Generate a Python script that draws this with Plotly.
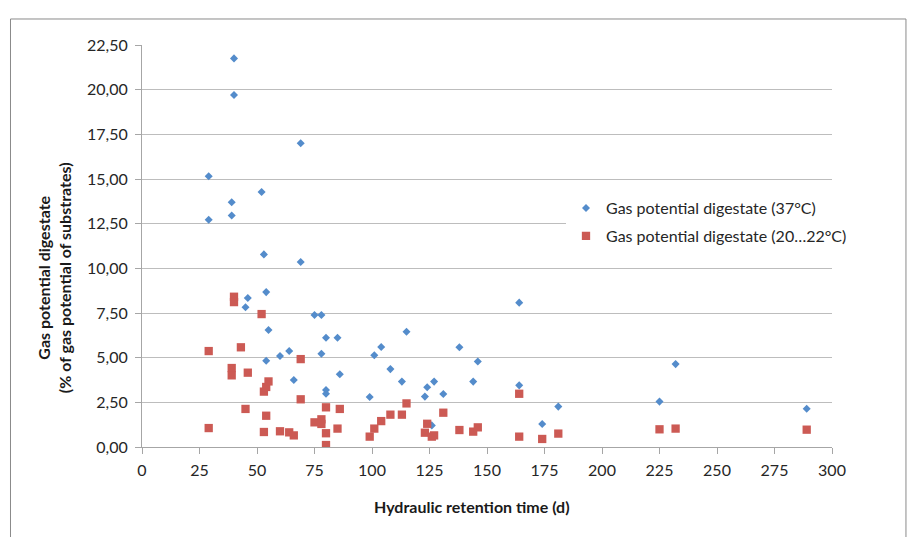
import plotly.graph_objects as go

# Gas potential digestate (37°C)
x37 = [29, 29, 39, 39, 40, 40, 45, 46, 52, 53, 54, 54, 55, 60, 64, 66, 69, 69, 75, 78,
       78, 80, 80, 80, 85, 86, 99, 101, 104, 108, 113, 115, 123, 124, 126, 127, 131, 138,
       144, 146, 164, 164, 174, 181, 225, 232, 289]
y37 = [15.15, 12.72, 13.70, 12.96, 21.75, 19.70, 7.82, 8.34, 14.27, 10.78, 8.67, 4.83,
       6.55, 5.09, 5.37, 3.75, 17.00, 10.35, 7.39, 7.39, 5.22, 6.12, 3.19, 2.98, 6.12,
       4.07, 2.80, 5.14, 5.60, 4.36, 3.66, 6.45, 2.82, 3.34, 1.21, 3.66, 2.97, 5.58,
       3.66, 4.79, 8.08, 3.45, 1.29, 2.26, 2.54, 4.64, 2.14]

# Gas potential digestate (20...22°C)
x20 = [29, 29, 39, 39, 40, 40, 43, 45, 46, 52, 53, 53, 54, 54, 55, 60, 64, 66, 69, 69,
       75, 78, 78, 80, 80, 80, 85, 86, 99, 101, 104, 108, 113, 115, 123, 124, 126, 127,
       131, 138, 144, 146, 164, 164, 174, 181, 225, 232, 289]
y20 = [5.37, 1.06, 4.42, 4.01, 8.41, 8.11, 5.58, 2.13, 4.16, 7.44, 3.10, 0.84, 3.36,
       1.75, 3.67, 0.88, 0.82, 0.65, 4.92, 2.67, 1.38, 1.55, 1.29, 2.22, 0.77, 0.11,
       1.03, 2.13, 0.58, 1.03, 1.45, 1.81, 1.81, 2.44, 0.80, 1.30, 0.58, 0.65, 1.92,
       0.95, 0.86, 1.10, 2.98, 0.58, 0.45, 0.75, 0.99, 1.03, 0.97]

name37 = "Gas potential digestate (37°C)"
name20 = "Gas potential digestate (20…22°C)"
x_title = "Hydraulic retention time (d)"
y_title = "Gas potential digestate<br>(% of gas potential of substrates)"

FONT = "Lato"
fig = go.Figure()
fig.add_trace(go.Scatter(x=x37, y=y37, mode="markers", name=name37, legendgroup="a",
                         marker=dict(symbol="diamond", size=6.2, color="#548CCB",
                                     line=dict(width=0))))
fig.add_trace(go.Scatter(x=x20, y=y20, mode="markers", name=name20, legendgroup="b",
                         marker=dict(symbol="square", size=8.3, color="#CC5A54",
                                     line=dict(width=0))))

fig.update_layout(
    width=907, height=537,
    margin=dict(l=142, r=75, t=45, b=90),
    paper_bgcolor="white", plot_bgcolor="white",
    separators=",.",
    font=dict(family=FONT, size=16, color="#262626"),
    showlegend=True,
    legend=dict(x=0.6145, y=0.6364, xanchor="left", yanchor="top",
                bgcolor="white", borderwidth=0, font=dict(size=16, color="#262626"),
                traceorder="grouped", tracegroupgap=4, itemwidth=30),
    xaxis=dict(range=[0, 300], dtick=25, tick0=0, showgrid=False, zeroline=False,
               showline=True, linecolor="#a6a6a6", linewidth=1,
               ticks="outside", ticklen=6, tickcolor="#a6a6a6", tickwidth=1,
               ticklabelstandoff=3,
               tickfont=dict(size=16, color="#262626")),
    yaxis=dict(range=[0, 22.5], dtick=2.5, tick0=0, tickformat=".2f",
               showgrid=True, gridcolor="#bdbdbd", gridwidth=1, zeroline=False,
               showline=True, linecolor="#a6a6a6", linewidth=1,
               ticks="outside", ticklen=6, tickcolor="#a6a6a6", tickwidth=1,
               ticklabelstandoff=4,
               tickfont=dict(size=16, color="#262626")),
)

fig.add_annotation(text="<b>" + x_title + "</b>", xref="paper", yref="paper",
                   x=0.4783, y=-0.1485, xanchor="center", yanchor="middle",
                   showarrow=False, font=dict(size=16, color="#1a1a1a"))
fig.add_annotation(text="<b>" + y_title + "</b>", xref="paper", yref="paper",
                   x=-0.1275, y=0.42, xanchor="center", yanchor="middle",
                   textangle=-90, showarrow=False, font=dict(size=16, color="#1a1a1a"))

fig.add_shape(type="rect", xref="paper", yref="paper",
              x0=-0.1906, x1=1.1072, y0=-0.3, y1=1.0647,
              line=dict(color="#8a8a8a", width=1), fillcolor="rgba(0,0,0,0)", layer="below")

fig.write_html("out.html")
